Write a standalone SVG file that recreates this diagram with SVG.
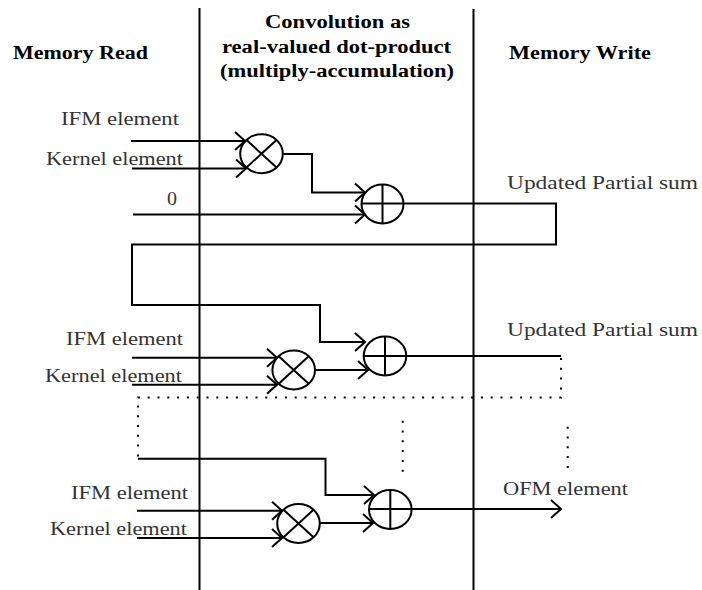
<svg xmlns="http://www.w3.org/2000/svg" width="702" height="590" viewBox="0 0 702 590">
<style>
text{font-family:"Liberation Serif","Times New Roman",serif;font-size:18px;fill:#333}
text.h{font-weight:bold;fill:#000;font-size:18px}
.l,.n *{fill:none;stroke:#000;stroke-width:2}
.d{fill:none;stroke:#000;stroke-width:2;stroke-dasharray:2 7.8}
</style>
<defs>
<marker id="a" markerUnits="userSpaceOnUse" markerWidth="14" markerHeight="22" refX="11" refY="10" orient="auto" viewBox="0 0 14 20" overflow="visible"><path d="M1 1L11 10L1 19" fill="none" stroke="#000" stroke-width="2"/></marker>
</defs>
<rect width="702" height="590" fill="#fff"/>
<g id="connectors">
<path class="l" d="M199.500 8V590M473.500 9V590"/>
<g class="l">
<path d="M131 141H245" marker-end="url(#a)"/>
<path d="M132 168.500H246" marker-end="url(#a)"/>
<path d="M283 154H312V192.500H365" marker-end="url(#a)"/>
<path d="M133 214.500H365" marker-end="url(#a)"/>
<path d="M362 203.500H556V244.500H132V305H320V342H365" marker-end="url(#a)"/>
<path d="M315 370H368" marker-end="url(#a)"/>
<path d="M132 357.700H277" marker-end="url(#a)"/>
<path d="M132 384.700H277" marker-end="url(#a)"/>
<path d="M364 356H561"/>
<path d="M138 458.700H325.500V495H374" marker-end="url(#a)"/>
<path d="M320 523H373" marker-end="url(#a)"/>
<path d="M137 510.700H282" marker-end="url(#a)"/>
<path d="M137 538H282" marker-end="url(#a)"/>
<path d="M369 509H561" marker-end="url(#a)"/>
</g>
<path class="d" d="M561 358V397.500H138V459"/>
<path class="d" d="M402.700 420.700V472"/>
<path class="d" d="M567.700 426.700V468"/>
</g>
<g id="mul1" class="n"><ellipse cx="261.500" cy="153.700" rx="21.300" ry="19.500"/><path d="M246.500 139.900L276.500 167.500M246.500 167.500L276.500 139.900"/></g>
<g id="add1" class="n"><ellipse cx="382.500" cy="204" rx="21" ry="19.500"/><path d="M382.500 184.500V223.500"/></g>
<g id="mul2" class="n"><ellipse cx="293.700" cy="370" rx="21.300" ry="19.500"/><path d="M278.700 356.200L308.700 383.800M278.700 383.800L308.700 356.200"/></g>
<g id="add2" class="n"><ellipse cx="385" cy="356" rx="21.300" ry="19.500"/><path d="M385 336.500V375.500"/></g>
<g id="mul3" class="n"><ellipse cx="298.500" cy="523.500" rx="21.300" ry="19.500"/><path d="M283.500 509.700L313.500 537.300M283.500 537.300L313.500 509.700"/></g>
<g id="add3" class="n"><ellipse cx="390.300" cy="509.500" rx="21.300" ry="19.500"/><path d="M390.300 490V529"/></g>
<g id="labels">
<text class="h" x="13" y="59" textLength="135" lengthAdjust="spacingAndGlyphs">Memory Read</text>
<text class="h" x="265" y="28" textLength="145" lengthAdjust="spacingAndGlyphs">Convolution as</text>
<text class="h" x="222" y="53" textLength="229" lengthAdjust="spacingAndGlyphs">real-valued dot-product</text>
<text class="h" x="220" y="77" textLength="234" lengthAdjust="spacingAndGlyphs">(multiply-accumulation)</text>
<text class="h" x="509" y="59" textLength="142" lengthAdjust="spacingAndGlyphs">Memory Write</text>
<text x="61" y="125" textLength="118" lengthAdjust="spacingAndGlyphs">IFM element</text>
<text x="46" y="165" textLength="137" lengthAdjust="spacingAndGlyphs">Kernel element</text>
<text x="167" y="205" textLength="10" lengthAdjust="spacingAndGlyphs">0</text>
<text x="507" y="189" textLength="191" lengthAdjust="spacingAndGlyphs">Updated Partial sum</text>
<text x="507" y="336" textLength="191" lengthAdjust="spacingAndGlyphs">Updated Partial sum</text>
<text x="66" y="345" textLength="117" lengthAdjust="spacingAndGlyphs">IFM element</text>
<text x="45" y="382" textLength="137" lengthAdjust="spacingAndGlyphs">Kernel element</text>
<text x="71" y="499" textLength="117" lengthAdjust="spacingAndGlyphs">IFM element</text>
<text x="50" y="535" textLength="137" lengthAdjust="spacingAndGlyphs">Kernel element</text>
<text x="503" y="495" textLength="125" lengthAdjust="spacingAndGlyphs">OFM element</text>
</g>
</svg>
